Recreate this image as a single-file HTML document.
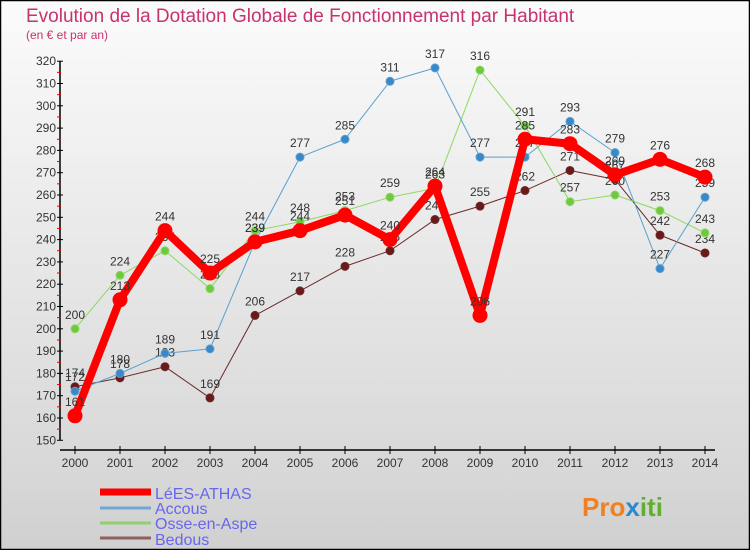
<!DOCTYPE html>
<html><head><meta charset="utf-8"><style>
body{margin:0;width:750px;height:550px;overflow:hidden;font-family:"Liberation Sans",sans-serif}
</style></head><body>
<svg width="750" height="550" xmlns="http://www.w3.org/2000/svg" id="svg">
<defs><linearGradient id="bg" x1="0" y1="0" x2="0" y2="1"><stop offset="0" stop-color="#fbfbfb"/><stop offset="0.85" stop-color="#d8d8d8"/><stop offset="1" stop-color="#d0d0d0"/></linearGradient></defs>
<rect x="0.5" y="0.5" width="749" height="549" fill="url(#bg)" stroke="#000" stroke-width="1.5"/>
<text x="26" y="22" font-size="19" fill="#c8326e">Evolution de la Dotation Globale de Fonctionnement par Habitant</text>
<text x="26" y="39" font-size="12" fill="#c8326e">(en € et par an)</text>
<g id="axes"></g><g id="series"></g>
<g font-size="16" fill="#6666ee">
<line x1="100" y1="492" x2="151" y2="492" stroke="#f00" stroke-width="7"/><text x="155" y="499">LéES-ATHAS</text>
<line x1="100" y1="508" x2="151" y2="508" stroke="#6fa8d0" stroke-width="3"/><text x="155" y="514">Accous</text>
<line x1="100" y1="523" x2="151" y2="523" stroke="#90d070" stroke-width="3"/><text x="155" y="529">Osse-en-Aspe</text>
<line x1="100" y1="538" x2="151" y2="538" stroke="#906060" stroke-width="3"/><text x="155" y="545">Bedous</text>
</g>
<text x="582" y="516" font-size="26" font-weight="bold" fill="#f08020">Pro<tspan fill="#2a8ad0">x</tspan><tspan fill="#60b030">iti</tspan></text>
</svg>
<script>
const years=[2000,2001,2002,2003,2004,2005,2006,2007,2008,2009,2010,2011,2012,2013,2014];
const lees=[161,213,244,225,239,244,251,240,264,206,285,283,269,276,268];
const accous=[172,180,189,191,239,277,285,311,317,277,277,293,279,227,259];
const osse=[200,224,235,218,244,248,253,259,263,316,291,257,260,253,243];
const bedous=[174,178,183,169,206,217,228,235,249,255,262,271,267,242,234];
const yTicks=[150,160,170,180,190,200,210,220,230,240,250,260,270,280,290,300,310,320];
const NS="http://www.w3.org/2000/svg";
const X=i=>75+i*45, Y=v=>418-(v-160)*2.23;
function mk(t,a,p){const e=document.createElementNS(NS,t);for(const k in a)e.setAttribute(k,a[k]);p.appendChild(e);return e;}
const ax=document.getElementById('axes');
const yl=mk('line',{x1:60,y1:Y(320),x2:60,y2:Y(150),stroke:'#000','stroke-width':1.5},ax);


const xl=mk('line',{x1:60,y1:450,x2:715,y2:450,stroke:'#000','stroke-width':1.5},ax);


yTicks.forEach(v=>{
 mk('line',{x1:57,y1:Y(v),x2:63,y2:Y(v),stroke:'#000'},ax);
 if(v<320)mk('line',{x1:57,y1:Y(v+5),x2:61,y2:Y(v+5),stroke:'#e00'},ax);
 const t=mk('text',{x:56,y:Y(v)+4,'font-size':12,fill:'#333','text-anchor':'end'},ax);t.textContent=v;
 
 
});
years.forEach((y,i)=>{
 mk('line',{x1:X(i),y1:446,x2:X(i),y2:454,stroke:'#000'},ax);
 const t=mk('text',{x:X(i),y:467,'font-size':12,fill:'#333','text-anchor':'middle'},ax);t.textContent=y;
 
 
});
const sg=document.getElementById('series');
function series(name,d,col,w,r,fill){
 const g=mk('g',{},sg);
 
 
 mk('polyline',{points:d.map((v,i)=>X(i)+','+Y(v)).join(' '),fill:'none',stroke:col,'stroke-width':w,'stroke-linejoin':'round'},g);
 d.forEach((v,i)=>{
  const c=mk('circle',{cx:X(i),cy:Y(v),r:r,fill:fill,stroke:col,'stroke-width':1},g);
  
  
  const t=mk('text',{x:X(i),y:Y(v)-10,'font-size':12,fill:'#333','text-anchor':'middle'},g);t.textContent=v;
 });
}
series('series-bedous',bedous,'#6a2a2a',1,4,'#6a1a1a');
series('series-osse',osse,'#8cd860',1,4,'#70c840');
series('series-accous',accous,'#5aa0d0',1,4,'#3a88c8');
series('series-lees',lees,'#f00',8,7,'#f00');
</script>
</body></html>
